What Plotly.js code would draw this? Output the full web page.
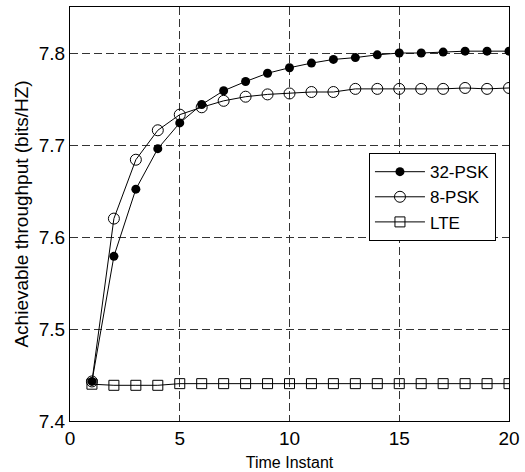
<!DOCTYPE html>
<html>
<head>
<meta charset="utf-8">
<script src="https://cdn.plot.ly/plotly-3.0.1.min.js"></script>
<style>html,body{margin:0;padding:0;background:#fff;}#chart{width:525px;height:472px;}</style>
</head>
<body>
<div id="chart"></div>
<script>
const timeInstants = [1,2,3,4,5,6,7,8,9,10,11,12,13,14,15,16,17,18,19,20];
const psk32 = [7.443,7.579,7.652,7.696,7.724,7.744,7.759,7.769,7.778,7.784,7.789,7.793,7.795,7.798,7.800,7.800,7.801,7.802,7.802,7.802];
const psk8 = [7.443,7.620,7.684,7.716,7.733,7.741,7.748,7.7525,7.755,7.756,7.7576,7.7576,7.761,7.761,7.761,7.761,7.761,7.762,7.761,7.762];
const lte = [7.440,7.4388,7.4388,7.4388,7.4406,7.4406,7.4406,7.4406,7.4406,7.4406,7.4406,7.4406,7.4406,7.4406,7.4406,7.4406,7.4406,7.4406,7.4406,7.4406];
const seriesNames = ['32-PSK','8-PSK','LTE'];
const xTicks = [0,5,10,15,20];
const yTicks = [7.4,7.5,7.6,7.7,7.8];

const font = 'Liberation Sans, Arial, sans-serif';
const traces = [
  {x: timeInstants, y: psk32, name: seriesNames[0], mode: 'lines+markers',
   line: {color: '#000', width: 1}, marker: {symbol: 'circle', size: 9, color: '#000'}},
  {x: timeInstants, y: psk8, name: seriesNames[1], mode: 'lines+markers',
   line: {color: '#000', width: 1}, marker: {symbol: 'circle-open', size: 11, color: '#000', line: {width: 1}}},
  {x: timeInstants, y: lte, name: seriesNames[2], mode: 'lines+markers',
   line: {color: '#000', width: 1}, marker: {symbol: 'square-open', size: 10, color: '#000', line: {width: 1}}}
];
const layout = {
  width: 525, height: 472,
  margin: {l: 70, r: 16, t: 7, b: 51},
  paper_bgcolor: '#fff', plot_bgcolor: '#fff',
  font: {family: font, color: '#000', size: 18},
  showlegend: true,
  legend: {x: 0.681, y: 0.647, xanchor: 'left', yanchor: 'top',
    bgcolor: '#fff', bordercolor: '#000', borderwidth: 1,
    font: {family: font, size: 17, color: '#000'}, itemwidth: 50, tracegroupgap: 0},
  xaxis: {range: [0, 20], tickvals: xTicks, ticktext: xTicks.map(String),
    showline: true, linecolor: '#000', linewidth: 1, mirror: true,
    showgrid: true, gridcolor: '#333', gridwidth: 1, griddash: '8px,4px',
    zeroline: false, ticks: '', tickfont: {size: 19},
    title: {text: 'Time Instant', font: {size: 16}, standoff: 9}},
  yaxis: {range: [7.4, 7.85], tickvals: yTicks, ticktext: yTicks.map(v => v.toFixed(1)),
    showline: true, linecolor: '#000', linewidth: 1, mirror: true,
    showgrid: true, gridcolor: '#333', gridwidth: 1, griddash: '8px,4px',
    zeroline: false, ticks: '', tickfont: {size: 19},
    title: {text: 'Achievable throughput (bits/HZ)', font: {size: 19}, standoff: 5}}
};
Plotly.newPlot('chart', traces, layout, {displayModeBar: false, staticPlot: true});
</script>
</body>
</html>
